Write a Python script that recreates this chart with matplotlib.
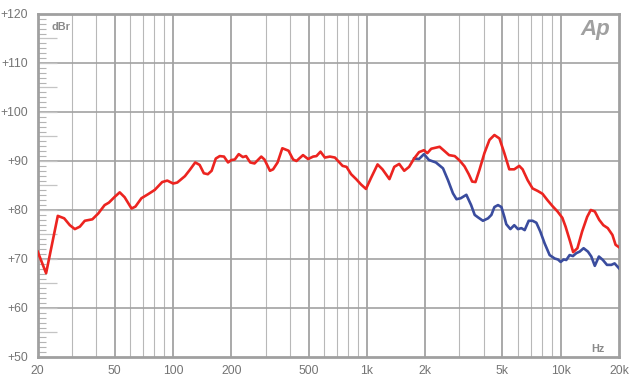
import numpy as np
import matplotlib.pyplot as plt
from matplotlib.ticker import FixedLocator, FuncFormatter

# Frequency response readings (Hz, dBr)
red_freq = [20, 22.1, 25.4, 27.4, 29.3, 31.1, 33.0, 35.0, 38.3, 41.1, 44.3, 46.6, 50.0, 53.0,
            56.2, 61, 63.9, 68.6, 74.1, 80.4, 87.8, 93.3, 100, 105, 108, 115, 122, 130, 137,
            144, 151, 158, 166, 174, 183, 192, 200, 208, 218, 229, 238, 250, 263, 285, 296,
            316, 328, 346, 366, 394, 416, 433, 468, 497, 528, 549, 576, 607, 644, 684, 749,
            785, 829, 880, 933, 989, 1049, 1135, 1203, 1307, 1384, 1468, 1558, 1651, 1752,
            1857, 1970, 2050, 2148, 2373, 2486, 2655, 2840, 3009, 3190, 3355, 3493, 3633,
            3810, 4040, 4290, 4550, 4830, 5120, 5430, 5760, 6110, 6360, 6750, 7160, 7600,
            8060, 8550, 9070, 9630, 10200, 10600, 11200, 11600, 12200, 12900, 13700, 14300,
            15000, 15800, 16600, 17500, 18500, 19200, 20000]
red_db = [71.5, 67.1, 78.8, 78.3, 76.9, 76.1, 76.6, 77.8, 78.1, 79.3, 81.0, 81.5, 82.7, 83.6,
          82.6, 80.3, 80.7, 82.4, 83.2, 84.1, 85.7, 86.0, 85.4, 85.6, 86.0, 86.9, 88.2, 89.7, 89.2,
          87.5, 87.3, 88.0, 90.5, 91.0, 90.9, 89.7, 90.2, 90.3, 91.4, 90.8, 91.0, 89.7, 89.5, 90.9, 90.3,
          88.0, 88.3, 89.7, 92.6, 92.1, 90.3, 90.0, 91.2, 90.4, 90.9, 91.0, 91.9, 90.7, 90.9, 90.7, 89.0,
          88.8, 87.3, 86.3, 85.2, 84.3, 86.5, 89.3, 88.3, 86.3, 88.8, 89.4, 88.0, 88.8, 90.5,
          91.8, 92.2, 91.6, 92.5, 92.9, 92.2, 91.2, 91.0, 90.1, 88.9, 87.3, 85.8, 85.7,
          88.2, 91.6, 94.3, 95.3, 94.6, 91.6, 88.3, 88.3, 89.0, 88.3, 86.1, 84.4, 83.9,
          83.3, 82.0, 80.8, 79.7, 78.4, 76.6, 73.5, 71.4, 72.2, 75.6, 78.6, 80.0,
          79.7, 78.0, 76.9, 76.3, 74.9, 72.9, 72.4]

blue_freq = [1752, 1857, 1970, 2090, 2270, 2470, 2620, 2780, 2900, 3050, 3260, 3450, 3600,
             3744, 3970, 4218, 4390, 4550, 4748, 4944, 5120, 5240, 5500, 5760, 6020, 6270,
             6520, 6840, 7160, 7490, 7850, 8260, 8770, 9310, 9680, 10000, 10360, 10690,
             11120, 11570, 12050, 12530, 13130, 13830, 14390, 15000, 15750, 16510, 17330,
             18250, 18980, 20000]
blue_db = [90.5, 90.4, 91.4, 90.2, 89.7, 88.5, 86.1, 83.4, 82.2, 82.4, 83.1, 81.0, 79.0,
           78.5, 77.8, 78.3, 79.0, 80.6, 81.0, 80.6, 78.6, 77.1, 76.1, 76.9, 76.1, 76.3,
           75.9, 77.8, 77.8, 77.4, 75.6, 73.2, 70.8, 70.1, 69.9, 69.4, 69.9, 69.8,
           70.8, 70.6, 71.2, 71.5, 72.2, 71.5, 70.5, 68.6, 70.5, 69.8, 68.8,
           68.8, 69.1, 68.1]

xtick_vals = [20, 50, 100, 200, 500, 1000, 2000, 5000, 10000, 20000]
xtick_labels = ['20', '50', '100', '200', '500', '1k', '2k', '5k', '10k', '20k']

plt.rcParams['font.family'] = ['Liberation Sans', 'DejaVu Sans']

fig = plt.figure(figsize=(6.4, 3.81), dpi=100)
ax = fig.add_axes([0.0589, 0.063, 0.9083, 0.9003])
ax.set_xscale('log')
ax.set_xlim(20, 20000)
ax.set_ylim(50, 120)

# vertical grid
for dec in [10, 100, 1000]:
    for k in range(2, 10):
        f = k * dec
        if f <= 20 or f >= 20000:
            continue
        if k in (2, 5):
            ax.axvline(f, color='#a2a2a2', lw=1.3, zorder=1)
        else:
            ax.axvline(f, color='#b8b8b8', lw=0.8, zorder=1)
for f in [100, 1000, 10000]:
    ax.axvline(f, color='#a2a2a2', lw=1.3, zorder=1)
for v in range(60, 120, 10):
    ax.axhline(v, color='#a2a2a2', lw=1.2, zorder=1)

ax.plot(blue_freq, blue_db, color='#3a4c9e', lw=1.9, zorder=3)
ax.plot(red_freq, red_db, color='#ec2420', lw=1.9, zorder=4)

ax.xaxis.set_major_locator(FixedLocator(xtick_vals))
ax.xaxis.set_minor_locator(FixedLocator([]))
ax.set_xticklabels(xtick_labels)
ax.tick_params(axis='x', length=0, pad=6, labelsize=8.8, labelcolor='#747474')

ax.yaxis.set_major_locator(FixedLocator(np.arange(50, 121, 5)))
ax.yaxis.set_minor_locator(FixedLocator(np.arange(50, 121, 1)))
ax.yaxis.set_major_formatter(FuncFormatter(lambda v, p: '+%d' % v if v % 10 == 0 else ''))
ax.tick_params(axis='y', which='major', direction='in', length=14, width=0.9,
               color='#c4c4c4', pad=7, labelsize=8.8, labelcolor='#747474')
ax.tick_params(axis='y', which='minor', direction='in', length=5.5, width=0.8, color='#b4b4b4')

for s in ax.spines.values():
    s.set_color('#a0a0a0')
    s.set_linewidth(2)

ax.text(0.024, 0.962, 'dBr', transform=ax.transAxes, fontsize=7.8, color='#8a8a8a',
        fontweight='bold', va='center', ha='left')
ax.text(0.975, 0.024, 'Hz', transform=ax.transAxes, fontsize=7.8, color='#8a8a8a',
        fontweight='bold', va='center', ha='right')
ax.text(0.984, 0.955, 'Ap', transform=ax.transAxes, fontsize=16, color='#a0a0a0',
        fontweight='bold', fontstyle='italic', va='center', ha='right')

fig.savefig('out.png', dpi=100)
